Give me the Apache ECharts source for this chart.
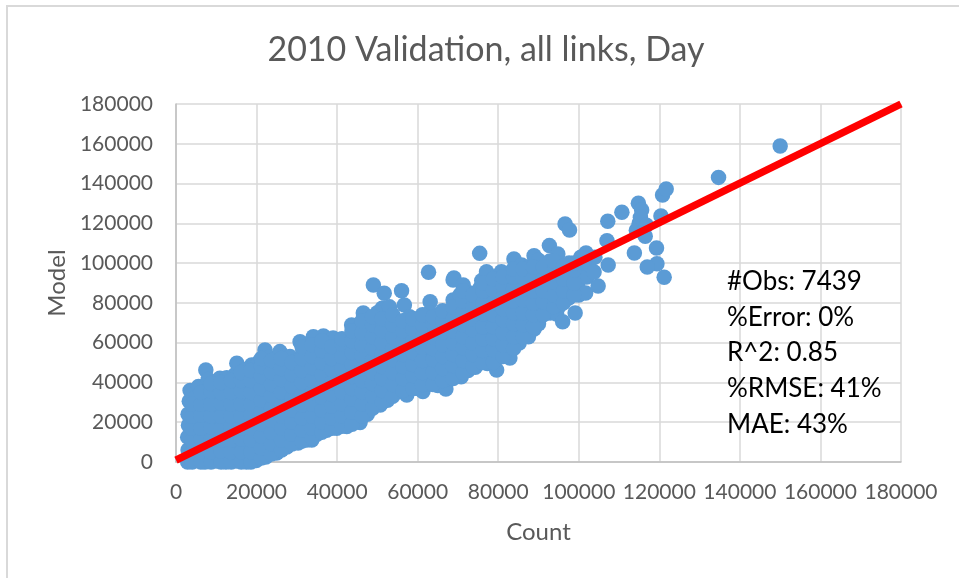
<!DOCTYPE html>
<html><head><meta charset="utf-8">
<style>
html,body{margin:0;padding:0;background:#fff;overflow:hidden}
#frame{position:absolute;left:6px;top:5px;width:953px;height:573px;border-top:2px solid #D9D9D9;border-left:2px solid #D9D9D9;box-sizing:border-box}
#c{position:absolute;left:0;top:0;width:959px;height:578px}
</style>
<script src="https://cdn.jsdelivr.net/npm/echarts@6/dist/echarts.min.js"></script>
</head><body><div id="frame"></div><div id="c"></div>
<script>
const chartTitle = '2010 Validation, all links, Day';
const xAxisName = 'Count';
const yAxisName = 'Model';
const statLines = ['#Obs: 7439', '%Error: 0%', 'R^2: 0.85', '%RMSE: 41%', 'MAE: 43%'];
const axisMax = 180000;
const axisStep = 20000;
const trendCount = [0, 180000];
const trendModel = [1000, 180000];

const lowCounts = [
[2900,0],[3000,6000],[2900,12500],[3100,18500],[3000,24000],[3300,30500],[3500,35900],
[5000,800],[5100,3500],[4900,9500],[5200,15500],[5000,21000],[5300,27500],[5100,33000],[5600,38000],
[7200,0],[7400,6500],[7300,12000],[7600,18000],[7300,24500],[7500,30000],[7700,36000],[7400,46300],[8000,41500],
[10000,500],[9800,3500],[10200,9000],[9900,15000],[10100,21500],[10000,27000],[10300,33000],[10000,38500],[10900,42100],
[12400,0],[12600,6000],[12300,12500],[12700,18000],[12500,24000],[12400,30500],[12800,36000],[12600,42300],
[15000,500],[14800,3500],[15200,9500],[15000,15000],[14900,21000],[15300,27500],[15000,33000],[15200,39000],[14700,44000],[15100,49600],
[17500,0],[17300,6500],[17700,12000],[17500,18500],[17400,24000],[17800,30000],[17500,36500],[17600,42000],[18800,48800],[17200,46500],
[19900,800],[20200,3500],[20000,9500],[19800,15000],[20100,21500],[20000,27000],[20300,33000],[19800,39000],[20200,45000],[20500,50000]
];
const lowerMidCounts = [
[22300,2500],[22500,6500],[22600,12500],[22200,18000],[22700,24000],[22400,30500],[22600,36000],[22300,42000],[22700,48000],[22100,56300],[23000,52500],
[25000,4500],[24900,9500],[25200,15000],[25000,21500],[24800,27000],[25300,33000],[25000,39000],[25200,45000],[24900,51000],[25800,55500],
[27500,7500],[27600,12500],[27300,18500],[27700,24000],[27400,30000],[27600,36000],[27300,42000],[27700,48000],[28300,53000],
[30300,9500],[30000,15500],[29900,21000],[30200,27500],[29900,33000],[30300,39000],[30000,45000],[30100,51000],[30800,60500],[31500,56500],
[32500,11000],[32700,18000],[32400,24000],[32600,30000],[32400,36000],[32700,42000],[32300,48000],[32600,54000],[33000,58500],
[33700,11000],[34100,63000],[35000,14000],[35100,20500],[34900,27000],[35200,33000],[35000,39000],[34800,45500],[35200,51000],[35000,57000],
[37400,16000],[37500,22500],[37600,29000],[37300,35000],[37700,41000],[37400,47000],[37600,53000],[37300,59000],[36600,63300],
[39900,17000],[40000,23000],[39800,30000],[40200,36000],[39900,42000],[40100,48000],[40000,54500],[39800,60500],[39000,62300],
[42400,17800],[42500,24500],[42600,31000],[42300,37000],[42700,43000],[42400,49500],[42600,55500],[42300,61500],[43600,68900],[44000,64000],
[45700,19800],[44900,26000],[45200,32500],[45000,38500],[44800,45000],[45200,51000],[45000,57000],[45300,63000],[46000,69000],[46500,74900]
];
const midCounts = [
[47500,24000],[47400,30000],[47700,36000],[47500,42000],[47300,48000],[47600,54000],[47400,60000],[47700,66000],[48000,71500],
[50700,28700],[50000,34000],[50200,40000],[49900,46500],[50100,52000],[50000,58000],[49800,64000],[50200,70000],[49000,89000],[51200,77300],[50000,75000],[51700,84800],
[52500,31000],[52700,37000],[52400,43000],[52600,49000],[52400,55000],[52700,61500],[52300,67000],[52800,72500],[53000,78000],
[55600,35400],[55000,41000],[55200,47000],[54900,53000],[55100,59000],[55000,65000],[55300,69900],[56000,86100],[56700,78900],
[57300,33700],[57500,39500],[57700,45000],[57400,51000],[57600,57000],[57300,63000],[57700,68500],[58000,73000],
[60000,37000],[60100,43000],[59800,49000],[60200,55000],[59900,61000],[60100,67000],[60000,71500],[61300,35400],
[62500,39500],[62600,45500],[62300,51500],[62700,57500],[62400,63500],[62600,69500],[63100,80600],[62700,95400],[63000,75000],
[65000,38500],[65200,44000],[64900,50000],[65100,56000],[65000,62000],[64800,68000],[65200,74000],
[67000,36700],[67500,42000],[67400,48000],[67700,54000],[67300,60000],[67600,66000],[67200,74900],[67800,71000],[68800,81500],[69000,92500],[68800,91500],
[70000,43500],[70800,42900],[70000,49500],[70200,55500],[69900,61500],[70100,67500],[70000,73000],[70300,78500],[71300,89000],[70500,84000]
];
const upperMidCounts = [
[72500,46000],[72700,52000],[72400,58000],[72600,64000],[72300,70000],[72700,76000],[72400,81000],[73000,85000],
[74300,47600],[75000,53000],[74800,59000],[75100,65000],[74900,71000],[75200,77000],[75000,83000],[75900,91200],[75400,104900],[75500,87500],
[77300,49500],[77500,55500],[77600,61500],[77300,67500],[77700,73500],[77400,79500],[77600,85500],[77300,90500],[77100,95700],
[79600,46300],[80000,52500],[79900,58500],[80200,64500],[80000,70500],[79800,76500],[80200,82500],[80000,88500],[80800,95700],
[82900,52300],[82500,58500],[82700,64500],[82400,70500],[82600,76500],[82400,82500],[82700,88500],[82900,95000],[83900,102100],
[85200,59800],[85000,65500],[85300,71500],[84900,77500],[85100,83500],[85000,89500],[85200,95000],[85800,99000],
[87500,63000],[87700,69000],[87400,75000],[87600,81000],[87400,87000],[87700,93000],[87500,98000],[88900,103700],
[88900,66900],[90000,69500],[90200,75500],[89900,81500],[90100,87500],[90000,93500],[90200,99000],[90000,101500],
[92900,74900],[92500,80000],[92700,86000],[92400,92000],[92600,97500],[92700,108800],[92800,101000],
[95000,78000],[95200,84000],[94900,90000],[95100,96000],[94800,104600],[94500,74400],[96000,70500],[96600,119700],[97700,116600],
[97500,82500],[97700,88500],[97400,94500],[97600,100000],[99100,74900],[100000,84000],[99800,90000],[100200,96000],[101700,85000],[101800,105100],[100500,103000]
];
const sparseCounts = [
[102000,93000],[102500,99500],[104800,88500],[103800,95500],[104000,103000],[107300,99000],[107000,111300],[107200,121000],[110700,125600],[113800,105100],
[114800,130100],[115600,126700],[114300,116500],[115000,120000],[116000,116000],[115300,123000],[116800,119000],[116500,113500],[120400,123700],
[119300,107600],[119400,99700],[117000,98000],[121200,92900],[120800,134250],[121700,137300],[134700,143100],[150000,158900]
];
const coreLow = [
[4000,[0,5000,11000,17000,23000,29000]],
[6200,[0,5000,11500,17000,23500,29000,35000]],
[8700,[0,5000,11000,17500,23000,29000,35500,39500]],
[11200,[0,5500,11000,17000,23000,29500,35000,40000]],
[13700,[0,5000,11000,17500,23000,29000,35000,41000]],
[16200,[0,5000,11500,17000,23000,29000,35500,41000,45000]],
[18600,[0,5000,11000,17000,23500,29000,35000,41000,46000]],
[21200,[2000,7000,13000,19000,25500,31000,37000,43000,48000,52000]],
[23700,[4000,9000,15000,21000,27000,33500,39000,45000,51000]],
[26200,[6000,11000,17000,23000,29000,35000,41500,47000,52000]],
[28800,[9000,14000,20000,26000,32000,38000,44000,50000]],
[31300,[10500,16000,22000,28500,34000,40000,46000,52000,58000]],
[33800,[12000,17000,23000,29000,35000,41000,47500,53000,59000]],
[36200,[15000,20000,26000,32500,38000,44000,50000,56000,61000]],
[38700,[17000,22000,28000,34000,40000,46500,52000,58000]],
[41200,[18000,23000,29000,35000,41000,47000,53000,59500,62000]],
[43700,[19000,25000,31500,37000,43000,49000,55000,61000,66000]],
[46200,[23000,29000,35000,41000,47000,53500,59000,65000,71000]]
];
const coreHigh = [
[48800,[27000,33000,39500,45000,51000,57000,63000,69000,73000]],
[51200,[30000,36000,42000,48000,54500,60000,66000,72000]],
[53800,[33000,39000,45000,51500,57000,63000,69000,74000]],
[56300,[36000,42000,48000,54000,60500,66000,71000]],
[58800,[37000,43500,49000,55000,61000,67000,72000]],
[61200,[39000,45000,51000,57500,63000,69000,74000]],
[63800,[39000,45000,51500,57000,63000,69500,73000]],
[66200,[41000,47000,53000,59000,65500,71000,76000]],
[68800,[42000,48500,54000,60000,66000,72000,78000]],
[71200,[45000,51000,57500,63000,69000,75000,81000,86000]],
[73700,[48000,54000,60000,66500,72000,78000,84000]],
[76200,[50000,56000,62000,68000,74500,80000,86000,90000]],
[78800,[50000,56500,62000,68000,74000,80000,86500,92000]],
[81200,[53000,59000,65000,71500,77000,83000,89000,93000]],
[83800,[57000,63000,69500,75000,81000,87000,93000,97000]],
[86200,[63000,69000,75000,81500,87000,93000,97000]],
[88700,[68000,74000,80000,86000,92500,98000]],
[91200,[74000,80500,86000,92000,98000]],
[93800,[78000,84000,90500,96000,101000]],
[96200,[80000,86000,92000,98500]],
[98800,[84000,90000,96500,100000]]
];
const denseCore = coreLow.concat(coreHigh).flatMap(([c, ms]) => ms.map(m => [c, m]));
const observations = [].concat(lowCounts, lowerMidCounts, midCounts, upperMidCounts, sparseCounts, denseCore);

const tickFont = {color:'#595959', fontFamily:'Lato', fontSize:21};
const chart = echarts.init(document.getElementById('c'), null, {renderer:'canvas'});
chart.setOption({
  animation:false,
  backgroundColor:'transparent',
  title:{text:chartTitle,left:481,top:28,textAlign:'center',
    textStyle:{color:'#595959',fontFamily:'Lato',fontSize:34,fontWeight:'normal'}},
  grid:{left:176,top:104,width:725,height:358,containLabel:false},
  xAxis:{type:'value',min:0,max:axisMax,interval:axisStep,
    name:xAxisName,nameLocation:'middle',nameGap:58,
    nameTextStyle:{color:'#595959',fontFamily:'Lato',fontSize:24},
    axisLine:{onZero:false,lineStyle:{color:'#BFBFBF',width:1.5}},axisTick:{show:false},
    axisLabel:Object.assign({margin:20,hideOverlap:false,showMinLabel:true,showMaxLabel:true,formatter:v=>String(v)},tickFont),
    splitLine:{show:true,lineStyle:{color:'#D9D9D9',width:1.5}}},
  yAxis:{type:'value',min:0,max:axisMax,interval:axisStep,
    name:yAxisName,nameLocation:'middle',nameGap:104,
    nameTextStyle:{color:'#595959',fontFamily:'Lato',fontSize:24},
    axisLine:{show:true,onZero:false,lineStyle:{color:'#BFBFBF',width:1.5}},axisTick:{show:false},
    axisLabel:Object.assign({margin:23,showMinLabel:true,showMaxLabel:true,formatter:v=>String(v)},tickFont),
    splitLine:{show:true,lineStyle:{color:'#D9D9D9',width:1.5}}},
  series:[
    {name:'Observations',type:'scatter',data:observations,symbol:'circle',symbolSize:15.5,clip:false,
      itemStyle:{color:'#5B9BD5',opacity:1},emphasis:{disabled:true},z:3},
    {name:'Trend',type:'line',data:trendCount.map((c,i)=>[c,trendModel[i]]),showSymbol:false,symbol:'none',clip:true,
      lineStyle:{color:'#FF0000',width:7.5,cap:'butt'},z:4}
  ],
  graphic:statLines.map((line,i)=>({type:'text',left:727,top:268.5+i*35.8,z:10,
    style:{text:line,fill:'#000000',font:'26px Lato'}}))
});
</script></body></html>
